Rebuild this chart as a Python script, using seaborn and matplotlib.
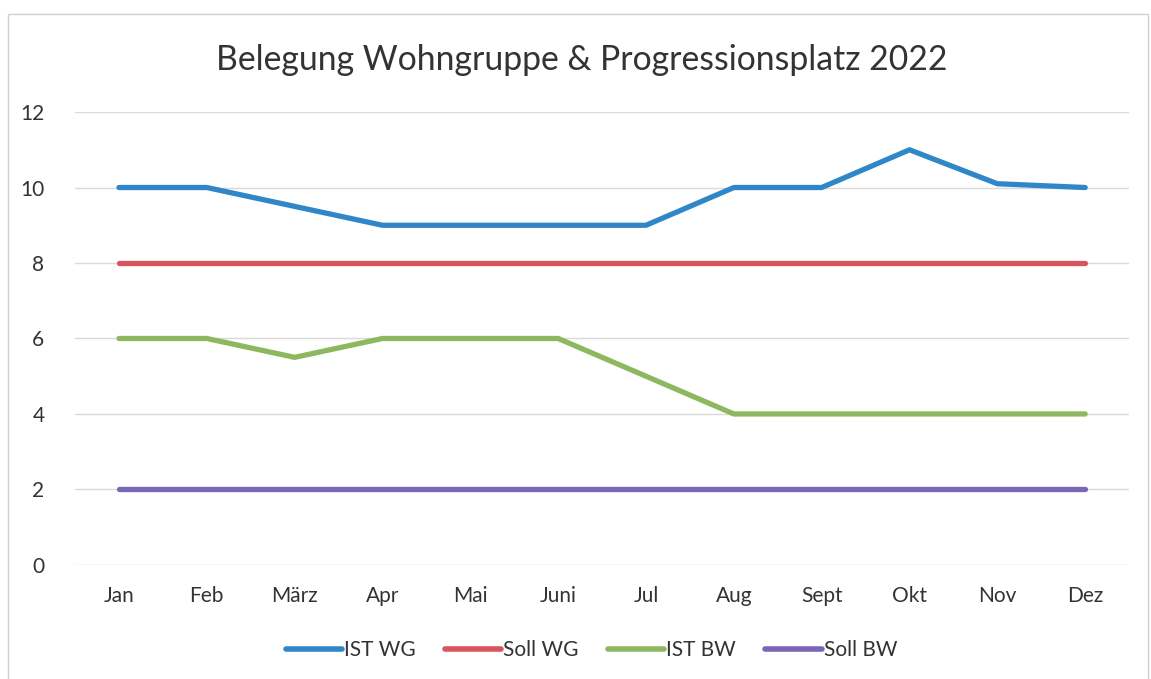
import matplotlib
matplotlib.use("Agg")
import matplotlib.pyplot as plt
import pandas as pd
import seaborn as sns

months = ["Jan", "Feb", "März", "Apr", "Mai", "Juni", "Jul", "Aug", "Sept", "Okt", "Nov", "Dez"]
ist_wg = [10, 10, 9.5, 9, 9, 9, 9, 10, 10, 11, 10.1, 10]
soll_wg = [8, 8, 8, 8, 8, 8, 8, 8, 8, 8, 8, 8]
ist_bw = [6, 6, 5.5, 6, 6, 6, 5, 4, 4, 4, 4, 4]
soll_bw = [2, 2, 2, 2, 2, 2, 2, 2, 2, 2, 2, 2]

series = {"IST WG": ist_wg, "Soll WG": soll_wg, "IST BW": ist_bw, "Soll BW": soll_bw}
colors = ["#2f87c8", "#d6555f", "#8db860", "#7a66b6"]

df = pd.DataFrame([
    {"Monat": m, "Wert": v, "Reihe": name, "pos": i}
    for name, vals in series.items()
    for i, (m, v) in enumerate(zip(months, vals))
])

sns.set_style("white")
plt.rcParams["font.family"] = ["Lato", "DejaVu Sans"]

fig = plt.figure(figsize=(11.51, 6.79), dpi=100)
ax = fig.add_axes([0.0652, 0.168, 0.9158, 0.667])

sns.lineplot(data=df, x="pos", y="Wert", hue="Reihe", palette=colors,
             linewidth=3.8, ax=ax, sort=False, legend=True)
for line in ax.lines:
    line.set_solid_capstyle("round")
    line.set_solid_joinstyle("round")

ax.set_xlim(-0.5, len(months) - 0.5)
ax.set_ylim(0, 12)
ax.set_yticks(range(0, 13, 2))
ax.set_xticks(range(len(months)))
ax.set_xticklabels(months)
ax.tick_params(axis="both", length=0, labelsize=15, colors="#333333")
ax.tick_params(axis="x", pad=15)
ax.tick_params(axis="y", pad=22)
ax.grid(axis="y", color="#d9d9d9", linewidth=1)
ax.set_axisbelow(True)
for s in ax.spines.values():
    s.set_visible(False)
ax.set_xlabel("")
ax.set_ylabel("")

ax.legend(loc="upper center", bbox_to_anchor=(0.49, -0.125), ncol=4, frameon=False,
          fontsize=15, handlelength=2.7, handletextpad=0.1, columnspacing=1.4,
          labelcolor="#333333")
for h in ax.get_legend().get_lines():
    h.set_linewidth(4)
    h.set_solid_capstyle("round")

fig.text(0.505, 0.912, "Belegung Wohngruppe & Progressionsplatz 2022", ha="center", va="center",
         fontsize=24.3, color="#333333")

border = plt.Rectangle((0.007, -0.01), 0.99, 0.99, transform=fig.transFigure, fill=False,
                       edgecolor="#d0d0d0", linewidth=1)
fig.patches.append(border)

fig.savefig("out.png", dpi=100)
